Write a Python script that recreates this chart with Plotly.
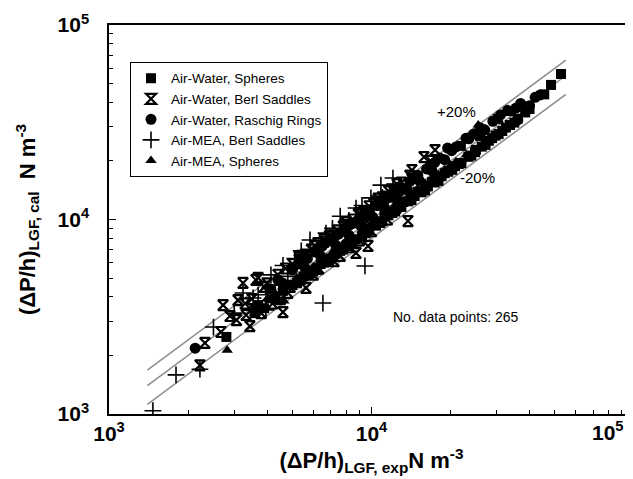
import plotly.graph_objects as go

# Air-Water, Spheres
sq_x = [2800, 3590, 3700, 3900, 4300, 5000, 5400, 5800, 6200, 6600, 7000, 7400, 7800, 8200, 8700,
        9200, 9800, 10400, 11000, 11600, 12300, 13000, 13800, 14600, 15500, 16400, 17400, 18500,
        19600, 20800, 22000, 23400, 24800, 26300, 28000, 29700, 31500, 33700, 36000, 38500, 21900,
        25900, 30300, 34000, 48300, 52700, 45500,
        5200, 6000, 6900, 7600, 8500, 9500, 10800, 12000, 14200, 16000, 18000, 20300, 24000, 27200,
        30500, 35000, 40000,
        4600, 5500, 6400, 7300, 8300, 9600, 11200, 13200, 15000, 17000, 19000, 21500, 25000, 28800,
        32500]
sq_y = [2490, 3300, 3630, 3500, 3900, 4600, 4900, 5200, 5500, 6000, 6300, 6700, 7000, 7300, 7900,
        8200, 8800, 9300, 9800, 10500, 11000, 11600, 12400, 13200, 13800, 14800, 15500, 16700,
        17600, 18800, 19500, 21000, 22200, 23700, 25400, 27000, 28500, 30600, 33000, 35500, 23900,
        26900, 32900, 36100, 49200, 56000, 44000,
        4700, 5400, 6100, 6900, 7600, 8500, 9600, 10800, 12600, 14100, 15800, 18000, 21300, 24200,
        27500, 31500, 37000,
        4300, 5100, 5900, 6700, 7700, 9000, 10500, 12300, 13900, 15600, 17300, 19300, 22800, 26200,
        29700]

# Air-Water, Berl Saddles
bs_x = [2220, 2320, 2670, 2720, 2890, 3060, 3100, 3240, 3330, 3440, 3630, 3700, 3900, 4600, 5630,
        4200, 4800, 5000, 5600, 6250, 7000, 7800, 8500, 9300, 10200, 11000, 12000, 13000, 14250,
        15850, 17460, 13770, 9700, 8730, 6000, 7200, 9000, 5300, 6600, 11500,
        3500, 4000, 4400, 5300, 5900, 6600, 7400, 8000, 8900, 9800, 10600, 11600, 12500, 14000,
        3800, 4500, 7600, 10000,
        4700, 5400, 6100, 6900, 7900, 9000, 10400, 11900, 3300, 3600, 4100, 4900, 6300, 8200,
        11500, 16800, 12800, 9600]
bs_y = [1780, 2320, 2640, 3630, 3190, 3040, 3850, 4720, 3230, 2830, 4890, 5010, 4500, 3340, 4450,
        3700, 4200, 5900, 6600, 7570, 8300, 9200, 10000, 10900, 12000, 13000, 14200, 15500, 17950,
        20940, 22750, 9820, 7310, 6730, 5200, 6100, 7800, 6200, 7700, 13100,
        3900, 4700, 5200, 6400, 7000, 7900, 8800, 9700, 10600, 11700, 12800, 14000, 15200, 16800,
        3300, 3900, 6500, 8700,
        5600, 6500, 7300, 8200, 9400, 10800, 12400, 14300, 3700, 3400, 4000, 4500, 5600, 7200,
        10000, 20000, 13000, 9800]

# Air-Water, Raschig Rings
ci_x = [2130, 4290, 4100, 4600, 5000, 5300, 5700, 6100, 6500, 7000, 7500, 8000, 8600, 9200, 9800,
        10500, 11300, 12100, 13000, 14000, 15000, 16200, 17400, 18200, 19500, 21000, 22900, 24500,
        27000, 29000, 33000, 35500, 36100, 38800, 43900, 42000, 40000, 21900, 8000, 9500, 12500,
        16000, 5900, 6800, 7700,
        4400, 5500, 6300, 7200, 8300, 9500, 10900, 12600, 14500, 16800, 20200, 23500, 26000, 31000,
        37000,
        5600, 6400, 7300, 8200, 9100, 10100, 11200, 12400, 13700, 15200, 17000, 19000]
ci_y = [2180, 4050, 4400, 4700, 5500, 5900, 6300, 6800, 7300, 7800, 8400, 9000, 9600, 10300, 11000,
        11800, 12700, 13600, 14600, 15700, 16900, 18200, 19600, 20700, 23300, 23600, 26200, 27500,
        28900, 32000, 36400, 37400, 32500, 36100, 43700, 42500, 38500, 19500, 7500, 8700, 11200,
        14200, 5300, 6200, 7000,
        4900, 6200, 7100, 8100, 9400, 10600, 12300, 14100, 16500, 19000, 22600, 26000, 29500, 34500,
        39500,
        5600, 6500, 7400, 8300, 9300, 10300, 11500, 12800, 14200, 15900, 17800, 20300]

# Air-MEA, Berl Saddles
pl_x = [1470, 1800, 2220, 3240, 3540, 3960, 4140, 5830, 6710, 7600, 8730, 9950, 10860, 12070,
        9440, 6530, 4600, 5100, 3000, 2500,
        4800, 5400, 6300, 7100, 8200, 9200, 3700, 4300, 11000]
pl_y = [1040, 1590, 1700, 4190, 3950, 3430, 5190, 7850, 8510, 10400, 11450, 12910, 15030, 16330,
        5770, 3720, 5800, 6300, 3300, 2800,
        5100, 6900, 7200, 9000, 9900, 11800, 4100, 4600, 13000]

# Air-MEA, Spheres
tr_x = [2820, 4640, 4000, 4800, 5600, 6500, 7500, 8500, 10000, 11500, 13000, 15000, 17000, 19000,
        21000, 25500, 23000,
        5200, 6000, 7000, 8000, 9200, 12200, 14000, 16000, 18000, 20000]
tr_y = [2130, 3810, 3900, 4600, 5300, 6200, 7100, 8100, 9500, 11000, 12500, 14400, 16300, 18000,
        19800, 30600, 21500,
        5000, 5700, 6600, 7600, 8800, 11700, 13400, 15300, 17000, 19000]

# parity and +/-20 % lines
line_x = [1400, 55000]
line_factors = [1.2, 1.0, 0.8]

# axis ticks
major_ticks = [1000, 10000, 100000]
major_text = ["10<sup>3</sup>", "10<sup>4</sup>", "10<sup>5</sup>"]
x_major_text = ["10<sup>3</sup>", "10<sup>4</sup>", ""]
minor_ticks = [2000, 3000, 4000, 5000, 6000, 7000, 8000, 9000,
               20000, 30000, 40000, 50000, 60000, 70000, 80000, 90000]

FONT = "Liberation Sans, Arial, sans-serif"

fig = go.Figure()
for f in line_factors:
    fig.add_trace(go.Scatter(x=line_x, y=[v * f for v in line_x], mode="lines",
                             line=dict(color="#8c8c8c", width=1.5), showlegend=False,
                             hoverinfo="skip"))

fig.add_trace(go.Scatter(x=sq_x, y=sq_y, mode="markers", name="Air-Water, Spheres",
                         marker=dict(symbol="square", size=10, color="black")))
fig.add_trace(go.Scatter(x=bs_x, y=bs_y, mode="markers", name="Air-Water, Berl Saddles",
                         marker=dict(symbol="hourglass-open", size=10, color="black",
                                     line=dict(width=2.2, color="black"))))
fig.add_trace(go.Scatter(x=ci_x, y=ci_y, mode="markers", name="Air-Water, Raschig Rings",
                         marker=dict(symbol="circle", size=11, color="black")))
fig.add_trace(go.Scatter(x=pl_x, y=pl_y, mode="markers", name="Air-MEA, Berl Saddles",
                         marker=dict(symbol="cross-thin-open", size=12, color="black",
                                     line=dict(width=1.6, color="black"))))
fig.add_trace(go.Scatter(x=tr_x, y=tr_y, mode="markers", name="Air-MEA, Spheres",
                         marker=dict(symbol="triangle-up", size=10, color="black")))

TICKFONT = dict(family=FONT, size=21, color="black", weight="bold")

def axis(title_text, ticktext, standoff, label_standoff):
    return dict(
        type="log", range=[3, 5], automargin=False,
        tickmode="array", tickvals=major_ticks, ticktext=ticktext,
        tickfont=TICKFONT,
        ticks="inside", ticklen=7, tickwidth=1.2, tickcolor="black",
        ticklabeloverflow="allow", ticklabelstandoff=label_standoff,
        showline=True, linecolor="black", linewidth=1.5, mirror=True,
        showgrid=False, zeroline=False,
        minor=dict(tickmode="array", tickvals=minor_ticks, ticks="inside", ticklen=4,
                   tickwidth=1, tickcolor="black", showgrid=False),
        title=dict(text=title_text, font=dict(family=FONT, size=22, weight="bold"),
                   standoff=standoff),
    )

fig.update_layout(
    width=633, height=479,
    margin=dict(l=101, r=7, t=17, b=73, autoexpand=False),
    paper_bgcolor="white", plot_bgcolor="white",
    font=dict(family=FONT, color="black"),
    xaxis=axis("(ΔP/h)<sub>LGF, exp</sub>N m<sup>-3</sup>", x_major_text, 4, 0),
    yaxis=axis("(ΔP/h)<sub>LGF, cal</sub>  N m<sup>-3</sup>", major_text, 16, 14),
    legend=dict(x=0.04, y=0.905, xanchor="left", yanchor="top",
                bordercolor="black", borderwidth=1, bgcolor="white",
                font=dict(family=FONT, size=13.5, color="black"),
                itemwidth=30, tracegroupgap=0),
    showlegend=True,
    annotations=[
        dict(text="10<sup>5</sup>", x=1, y=0, xref="paper", yref="paper",
             xanchor="right", yanchor="top", xshift=-8, yshift=-2, showarrow=False,
             font=TICKFONT),
        dict(text="+20%", x=0.661, y=0.805, xref="paper", yref="paper", showarrow=False,
             font=dict(family=FONT, size=15)),
        dict(text="-20%", x=0.739, y=0.607, xref="paper", yref="paper", showarrow=False,
             font=dict(family=FONT, size=15)),
        dict(text="No. data points: 265", x=0.785, y=0.224, xref="paper", yref="paper",
             showarrow=False, font=dict(family=FONT, size=14)),
    ],
)

fig.write_html("out.html")
